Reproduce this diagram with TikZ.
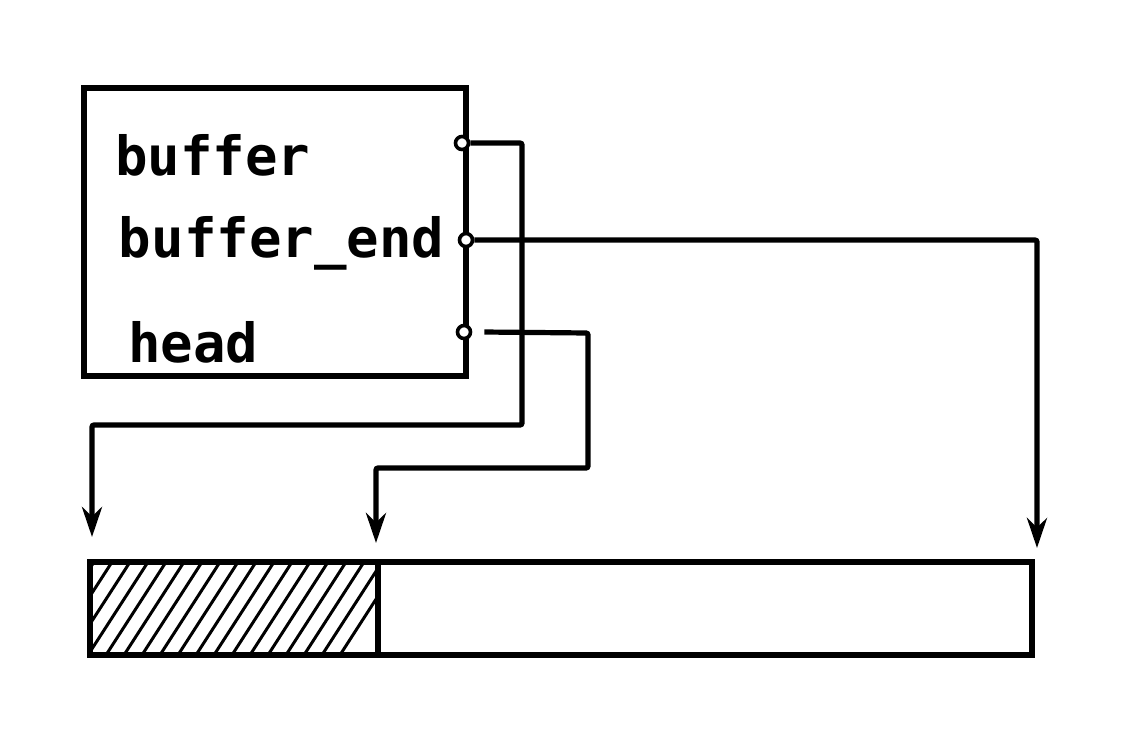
\documentclass[tikz,border=0pt]{standalone}
\usepackage{fontspec}
\setmonofont{DejaVu Sans Mono}
\usetikzlibrary{arrows.meta,positioning}
\tikzset{
  wire/.style={line width=2.6pt, rounded corners=1pt, -{Stealth[length=15pt,width=10pt]}},
  port/.style={circle, draw, line width=1.8pt, inner sep=0pt, minimum size=6.5pt, fill=white},
  field/.style={anchor=west, inner sep=0pt, font=\fontsize{27}{31}\selectfont\ttfamily\bfseries},
}
\begin{document}
\begin{tikzpicture}[x=0.5pt,y=-0.5pt,line width=3pt]
  \useasboundingbox (0,0) rectangle (1126,752);
  % the struct with its three fields
  \node[draw, minimum width=191pt, minimum height=144pt] (meta) at (275,232) {};
  \node[field] (buffer) at (112,155) {buffer};
  \node[field] (bufend) at (116,243) {buffer\_end};
  \node[field] (head) at (125,342) {head};
  \node[port] (pbuffer) at (462,143) {};
  \node[port] (pbufend) at (466,240) {};
  \node[port] (phead) at (464,332) {};
  % the memory block, used part hatched
  \begin{scope}
    \clip (90,562) rectangle (378,655);
    \foreach \x in {40,58,...,400}
      \draw[line width=1.5pt] (\x-60,655) -- (\x,562);
  \end{scope}
  \node[draw, minimum width=471pt, minimum height=46.5pt] (mem) at (561,608.5) {};
  \draw (378,562) -- (378,655);
  \coordinate (tstart) at (92,537);
  \coordinate (thead) at (376,543);
  \coordinate (tend) at (1037,548);
  % pointers
  \draw[wire] (pbuffer.east) -- (522,143) -- (522,425) -- (92,425) -- (tstart);
  \draw[wire] (pbufend.east) -- (1037,240) -- (tend);
  \draw[wire] ([xshift=6pt]phead.east) -- (588,333) -- (588,468) -- (376,468) -- (thead);
\end{tikzpicture}
\end{document}
